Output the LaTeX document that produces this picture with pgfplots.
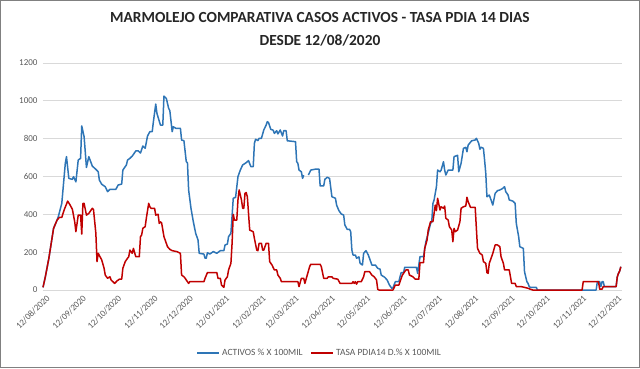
\documentclass[border=0pt]{standalone}
\usepackage{pgfplots}
\pgfplotsset{compat=1.18}
\usepackage{pgfplotstable}
\usepackage{fontspec}
\setmainfont{Carlito}
\definecolor{blueline}{RGB}{46,117,182}
\definecolor{redline}{RGB}{192,0,0}
\definecolor{gridc}{RGB}{217,217,217}
\definecolor{tickc}{RGB}{89,89,89}

\pgfplotstableread{
x y
0 14
2 70
5 168
9 326
12 370
13 387
16 458
19 670
20 705
22 590
25 585
26 599
28 572
30 687
32 696
33 867
35 810
37 648
39 705
42 655
45 638
47 625
48 581
50 559
53 546
55 520
57 532
62 532
64 555
67 560
68 634
71 661
72 687
74 696
76 708
79 735
81 736
83 724
85 761
87 749
89 814
91 837
93 837
94 890
96 983
97 934
100 872
102 872
103 1025
105 1013
107 960
108 948
110 837
111 863
113 855
117 855
118 793
120 789
122 678
123 673
124 529
126 432
128 361
130 300
132 264
133 194
137 190
138 168
139 168
140 197
142 190
145 203
148 194
151 208
154 208
155 238
157 243
158 282
160 300
162 485
164 490
166 599
168 634
170 661
173 673
175 684
177 652
179 652
180 775
181 797
183 790
184 802
186 802
188 846
190 872
191 890
192 885
194 849
196 845
197 828
199 842
200 825
202 846
204 814
205 842
207 842
208 789
215 784
216 678
217 670
218 634
220 625
221 590
222 607
223 nan
226 608
228 634
232 639
235 639
236 550
239 550
240 585
242 596
244 590
246 493
249 485
250 449
252 419
254 402
256 396
257 344
259 321
261 321
262 308
263 211
264 185
266 185
267 168
269 175
270 141
272 132
273 194
275 208
277 185
279 150
280 132
283 132
285 115
287 110
288 79
291 67
293 53
295 26
297 9
298 12
300 44
303 44
304 70
305 92
307 92
308 120
318 120
319 88
321 176
324 176
326 255
328 300
330 352
331 360
332 458
333 476
335 546
336 634
338 625
339 634
341 678
342 634
343 608
345 634
349 634
350 705
353 712
354 625
356 670
358 749
360 754
361 731
362 766
365 789
368 793
369 802
371 775
372 744
373 755
375 749
376 687
377 617
378 493
380 502
382 467
383 449
385 511
387 525
389 529
391 535
393 546
394 520
396 502
397 476
400 470
402 458
403 352
405 282
406 229
409 220
410 97
412 44
413 35
414 18
415 14
420 14
421 0
471 0
472 44
474 44
475 18
476 44
477 44
478 18
488 18
489 70
490 88
491 100
492 123
}\activos

\pgfplotstableread{
x y
0 14
2 70
5 168
9 326
12 370
14 384
16 384
18 423
21 470
23 450
25 427
27 361
28 308
30 396
32 396
33 296
34 458
35 458
37 396
39 405
42 432
43 425
45 300
46 150
47 194
50 159
52 115
53 79
55 62
57 70
58 53
61 35
63 48
65 57
67 57
68 115
70 150
72 168
73 176
74 211
76 194
77 220
79 176
82 176
83 282
84 291
85 326
87 335
88 380
90 458
91 440
92 432
95 432
96 396
98 400
99 352
100 360
101 355
103 282
106 229
108 215
110 208
114 203
117 194
118 79
120 70
121 62
122 53
124 35
125 44
127 44
137 44
138 62
140 92
148 92
149 62
151 62
152 26
154 14
155 53
157 70
158 106
160 141
161 247
162 400
163 370
165 370
166 476
167 529
169 476
170 432
171 432
172 511
173 515
174 493
175 405
176 317
179 308
180 273
182 211
183 208
184 247
186 247
187 211
188 211
190 247
192 247
193 150
195 132
197 106
199 106
200 79
202 62
203 44
217 44
218 18
220 62
222 62
223 35
225 79
227 123
228 136
236 136
237 123
239 62
242 62
243 70
246 70
247 62
251 57
253 35
263 35
264 44
265 35
266 44
267 31
268 44
271 44
273 70
274 97
278 97
280 79
282 70
284 53
285 4
286 0
298 0
300 26
303 26
304 44
305 62
306 79
309 106
311 106
312 79
315 70
317 57
320 57
321 145
324 145
325 220
327 264
328 317
330 361
332 361
334 449
335 420
336 485
338 423
339 440
341 432
342 444
343 379
345 370
346 335
348 317
349 255
350 326
351 308
353 317
355 361
356 432
358 440
360 444
361 490
362 467
364 437
368 437
369 326
370 220
372 194
374 185
375 150
377 141
378 92
379 88
380 141
382 176
383 194
385 238
387 238
389 229
390 176
392 141
393 106
397 106
399 35
402 35
403 18
407 18
410 14
413 9
415 4
417 0
459 0
460 44
473 44
474 4
476 4
477 18
488 18
489 70
490 88
491 100
492 123
}\tasa

\begin{document}
\begin{tikzpicture}[x=1pt,y=1pt]
\begin{axis}[
  scale only axis, width=579pt, height=227pt,
  xmin=0, xmax=493, ymin=0, ymax=1200,
  ytick={0,200,400,600,800,1000,1200},
  xtick={0,31,61,92,122,153,184,212,243,273,304,334,365,396,426,457,487},
  xticklabels={12/08/2020,12/09/2020,12/10/2020,12/11/2020,12/12/2020,12/01/2021,12/02/2021,12/03/2021,12/04/2021,12/05/2021,12/06/2021,12/07/2021,12/08/2021,12/09/2021,12/10/2021,12/11/2021,12/12/2021},
  axis x line*=bottom, axis y line*=left,
  y axis line style={draw=none},
  x axis line style={draw=gridc, line width=0.8pt},
  major tick length=0pt,
  ymajorgrids, grid style={draw=gridc, line width=0.8pt},
  /pgf/number format/assume math mode=true,
  /pgf/number format/1000 sep={},
  tick label style={font=\fontsize{9}{10}\selectfont, text=tickc},
  yticklabel style={xshift=-2pt},
  xticklabel style={rotate=45, anchor=north east, inner sep=1pt, yshift=-4pt},
  unbounded coords=jump,
  clip=false,
  legend style={at={(0.478,-0.2775)}, anchor=center, draw=none, fill=none,
    font=\fontsize{9.5}{11}\selectfont, text=tickc,
    /tikz/every even column/.append style={column sep=6pt}},
  legend columns=2,
  legend image code/.code={\draw[#1, line width=1.5pt] (0pt,0pt) -- (22pt,0pt);},
]
\coordinate (O) at (rel axis cs:0,0);
\addplot[blueline, line width=1.5pt, line join=round] table {\activos};
\addlegendentry{ACTIVOS \% X 100MIL}
\addplot[redline, line width=1.5pt, line join=round] table {\tasa};
\addlegendentry{TASA PDIA14 D.\% X 100MIL}
\end{axis}
\pgfresetboundingbox
\path[use as bounding box] (O) ++(-43,-78) rectangle ++(640,368);
\draw[black!50, line width=1pt] (O) ++(-42.5,-77.5) rectangle ++(639,367);
\node[font=\fontsize{15.4}{18}\selectfont\bfseries, text=black!85] at ([shift={(277,272)}]O) {MARMOLEJO COMPARATIVA CASOS ACTIVOS - TASA PDIA 14 DIAS};
\node[font=\fontsize{15.4}{18}\selectfont\bfseries, text=black!85] at ([shift={(277,250)}]O) {DESDE 12/08/2020};
\end{tikzpicture}
\end{document}
